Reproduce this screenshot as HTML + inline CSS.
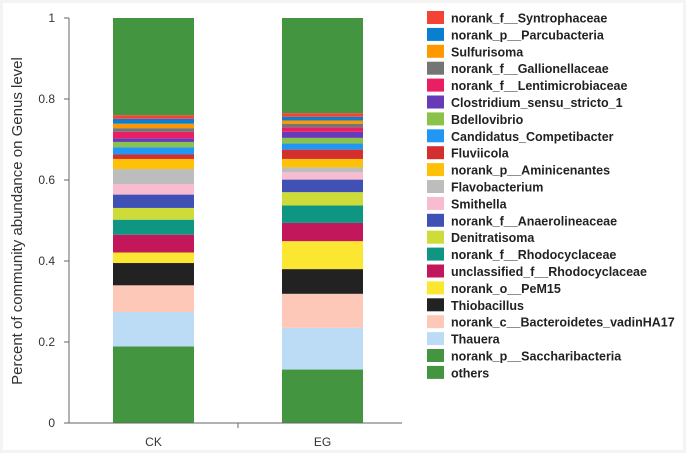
<!DOCTYPE html>
<html><head><meta charset="utf-8"><style>
body{margin:0;background:#f4f4f4;}
svg{display:block;font-family:"Liberation Sans",sans-serif;}
</style></head><body>
<svg id="c" width="686" height="453">
<rect x="3" y="3" width="680" height="447" fill="#fff"/>
</svg>
<script>
const categories=["CK","EG"];
const seriesNames=["norank_p__Saccharibacteria","Thauera","norank_c__Bacteroidetes_vadinHA17","Thiobacillus","norank_o__PeM15","unclassified_f__Rhodocyclaceae","norank_f__Rhodocyclaceae","Denitratisoma","norank_f__Anaerolineaceae","Smithella","Flavobacterium","norank_p__Aminicenantes","Fluviicola","Candidatus_Competibacter","Bdellovibrio","Clostridium_sensu_stricto_1","norank_f__Lentimicrobiaceae","norank_f__Gallionellaceae","Sulfurisoma","norank_p__Parcubacteria","norank_f__Syntrophaceae","others"];
const colors=["#43963f","#bcdcf5","#fdc8b8","#222222","#fbe732","#c2185b","#0f9683","#cddc39","#3f51b5","#f8bbd0","#bdbdbd","#ffc107","#d32f2f","#2196f3","#8bc34a","#673ab7","#e91e63","#757575","#ff9800","#0a7fd0","#f44336","#43963f"];
const valuesCK=[0.189,0.085,0.066,0.055,0.026,0.044,0.037,0.029,0.033,0.026,0.037,0.025,0.011,0.018,0.013,0.009,0.016,0.009,0.011,0.012,0.009,0.240];
const valuesEG=[0.132,0.103,0.084,0.061,0.069,0.045,0.043,0.033,0.031,0.018,0.012,0.021,0.023,0.015,0.014,0.015,0.011,0.009,0.008,0.009,0.009,0.235];
const yTicks=[0,0.2,0.4,0.6,0.8,1];
const yTickLabels=["0","0.2","0.4","0.6","0.8","1"];
const NS="http://www.w3.org/2000/svg";
const svg=document.getElementById('c');
const y0=423,y1=18;
const yS=v=>y0-v*(y0-y1);
const barX=[113,282],barW=81;
function mk(t,a,txt){const e=document.createElementNS(NS,t);for(const k in a)e.setAttribute(k,a[k]);if(txt!=null)e.textContent=txt;svg.appendChild(e);return e;}
[valuesCK,valuesEG].forEach((vals,ci)=>{
  let cum=0;
  vals.forEach((v,i)=>{
    const top=Math.min(cum+v,1);
    const r=mk('rect',{x:barX[ci],y:yS(top),width:barW,height:yS(cum)-yS(top),fill:colors[i]});
    
    
    cum=top;
  });
  const t=mk('text',{x:barX[ci]+barW/2,y:446,'text-anchor':'middle','font-size':12,fill:'#333'},categories[ci]);
  
  
});
let a=mk('line',{x1:69,y1:y1,x2:69,y2:y0,stroke:'#666'});


a=mk('line',{x1:69,y1:y0,x2:402,y2:y0,stroke:'#666'});


a=mk('line',{x1:238,y1:y0,x2:238,y2:y0+5,stroke:'#666'});


yTicks.forEach((v,i)=>{
  const l=mk('line',{x1:64,y1:yS(v),x2:69,y2:yS(v),stroke:'#666'});
  
  
  const t=mk('text',{x:55,y:yS(v)+4,'text-anchor':'end','font-size':12,fill:'#333'},yTickLabels[i]);
  
  
});
const yt=mk('text',{x:0,y:0,transform:'translate(22,221) rotate(-90)','text-anchor':'middle','font-size':15,fill:'#333'},'Percent of community abundance on Genus level');


const order=[];
for(let i=seriesNames.length-2;i>=0;i--)order.push(i);
order.push(seriesNames.length-1);
order.forEach((i,k)=>{
  const yy=18+k*16.9;
  const r=mk('rect',{x:427,y:yy-7,width:17,height:13,fill:colors[i]});
  
  
  const t=mk('text',{x:451,y:yy+4.5,'font-size':12.5,'font-weight':'bold',fill:'#222'},seriesNames[i]);
  
  
});
</script>
</body></html>
